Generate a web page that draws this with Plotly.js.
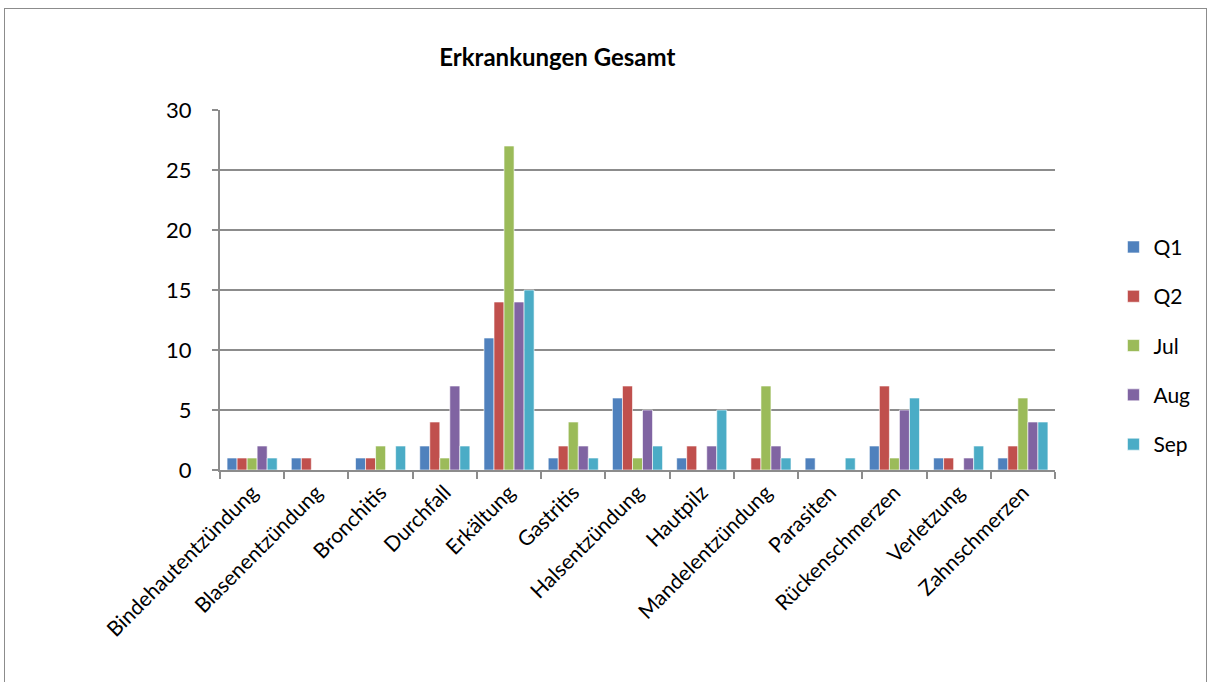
<!DOCTYPE html>
<html><head><meta charset="utf-8">
<script src="https://cdn.plot.ly/plotly-3.0.1.min.js"></script>
<style>
body{margin:0;background:#fff;}
#frame{position:absolute;left:4px;top:8px;width:1203px;height:680px;border:1.5px solid #8c8c8c;box-sizing:border-box;}
#chart{position:absolute;left:0;top:0;width:1214px;height:682px;}
</style></head>
<body>
<div id="frame"></div>
<div id="chart"></div>
<script>
const categories = ["Bindehautentzündung","Blasenentzündung","Bronchitis","Durchfall","Erkältung","Gastritis","Halsentzündung","Hautpilz","Mandelentzündung","Parasiten","Rückenschmerzen","Verletzung","Zahnschmerzen"];
const seriesNames = ["Q1","Q2","Jul","Aug","Sep"];
const q1  = [1,1,1,2,11,1,6,1,0,1,2,1,1];
const q2  = [1,1,1,4,14,2,7,2,1,0,7,1,2];
const jul = [1,0,2,1,27,4,1,0,7,0,1,0,6];
const aug = [2,0,0,7,14,2,5,2,2,0,5,1,4];
const sep = [1,0,2,2,15,1,2,5,1,1,6,2,4];
const yTicks = [0,5,10,15,20,25,30];
const colors = ["#4F81BD","#C0504D","#9BBB59","#8064A2","#4BACC6"];
const values = [q1,q2,jul,aug,sep];
const font = "Lato, 'Open Sans', sans-serif";
const traces = values.map((v,i)=>({
  type:"bar", name:seriesNames[i], x:categories, y:v,
  marker:{color:colors[i], line:{color:"rgba(255,255,255,0.6)", width:1}},
  legendgroup:"g"+i, hoverinfo:"y"
}));
const layout = {
  width:1214, height:682,
  paper_bgcolor:"rgba(0,0,0,0)", plot_bgcolor:"rgba(0,0,0,0)",
  margin:{l:220, r:159, t:110, b:212},
  bargap:0.22, bargroupgap:0,
  font:{family:font, color:"#000"},
  title:{text:"<b>Erkrankungen Gesamt</b>", font:{size:24, family:font}, xref:"paper", x:0.404, xanchor:"center", yref:"container", y:1-58/682, yanchor:"middle"},
  xaxis:{type:"category", tickangle:-45, tickfont:{size:21}, showline:true, linecolor:"#8c8c8c", linewidth:2,
    ticks:"outside", tickson:"boundaries", ticklen:7, tickcolor:"#8c8c8c", tickwidth:2, showgrid:false, automargin:false},
  yaxis:{range:[0,30], tickvals:yTicks, ticktext:yTicks.map(String), tickfont:{size:22}, showline:true, linecolor:"#8c8c8c", linewidth:2,
    ticks:"outside", ticklen:6, tickcolor:"#8c8c8c", tickwidth:2, ticklabelstandoff:16, showgrid:true, gridcolor:"#8c8c8c", gridwidth:2, zeroline:false, automargin:false},
  legend:{x:1.07, xanchor:"left", y:0.345, yanchor:"middle", font:{size:21}, tracegroupgap:19, itemwidth:30},
  showlegend:true
};
Plotly.newPlot("chart", traces, layout, {displayModeBar:false, staticPlot:true});
</script>
</body></html>
